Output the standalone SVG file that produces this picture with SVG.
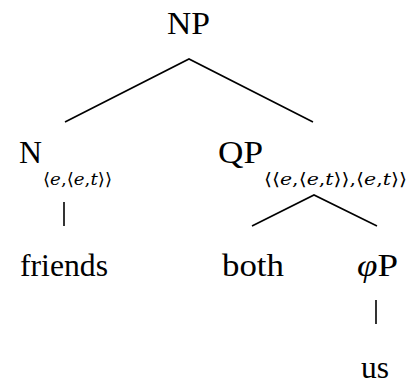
<svg xmlns="http://www.w3.org/2000/svg" width="413" height="392" viewBox="0 0 413 392">
<style>
.i{font-style:italic}
.e{stroke:#000;stroke-width:1.6;fill:none}
</style>
<rect width="413" height="392" fill="#fff"/>
<g id="edges">
<path class="e" d="M65 122L189 59L313 122"/>
<path class="e" d="M64 202V226"/>
<path class="e" d="M252 226L314 195L377 226"/>
<path class="e" d="M376 300V324"/>
</g>
<g id="np"><text x="167" y="34" font-family="Liberation Serif, serif" font-size="32" textLength="43" lengthAdjust="spacingAndGlyphs">NP</text></g>
<g id="n"><text x="19" y="163" font-family="Liberation Serif, serif" font-size="32" textLength="23" lengthAdjust="spacingAndGlyphs">N</text><text x="43" y="185" font-family="DejaVu Serif, serif" font-size="17" textLength="69" lengthAdjust="spacingAndGlyphs">⟨<tspan class="i">e</tspan>,⟨<tspan class="i">e</tspan>,<tspan class="i">t</tspan>⟩⟩</text></g>
<g id="qp"><text x="218" y="163" font-family="Liberation Serif, serif" font-size="32" textLength="45" lengthAdjust="spacingAndGlyphs">QP</text><text x="264" y="185" font-family="DejaVu Serif, serif" font-size="17" textLength="143" lengthAdjust="spacingAndGlyphs">⟨⟨<tspan class="i">e</tspan>,⟨<tspan class="i">e</tspan>,<tspan class="i">t</tspan>⟩⟩,⟨<tspan class="i">e</tspan>,<tspan class="i">t</tspan>⟩⟩</text></g>
<g id="friends"><text x="20" y="276" font-family="Liberation Serif, serif" font-size="32" textLength="88" lengthAdjust="spacingAndGlyphs">friends</text></g>
<g id="both"><text x="222" y="276" font-family="Liberation Serif, serif" font-size="32" textLength="62" lengthAdjust="spacingAndGlyphs">both</text></g>
<g id="phip"><text x="357" y="276" font-family="Liberation Serif, serif" font-size="32" textLength="41" lengthAdjust="spacingAndGlyphs"><tspan class="i">φ</tspan>P</text></g>
<g id="us"><text x="361" y="378" font-family="Liberation Serif, serif" font-size="32" textLength="28" lengthAdjust="spacingAndGlyphs">us</text></g>
</svg>
